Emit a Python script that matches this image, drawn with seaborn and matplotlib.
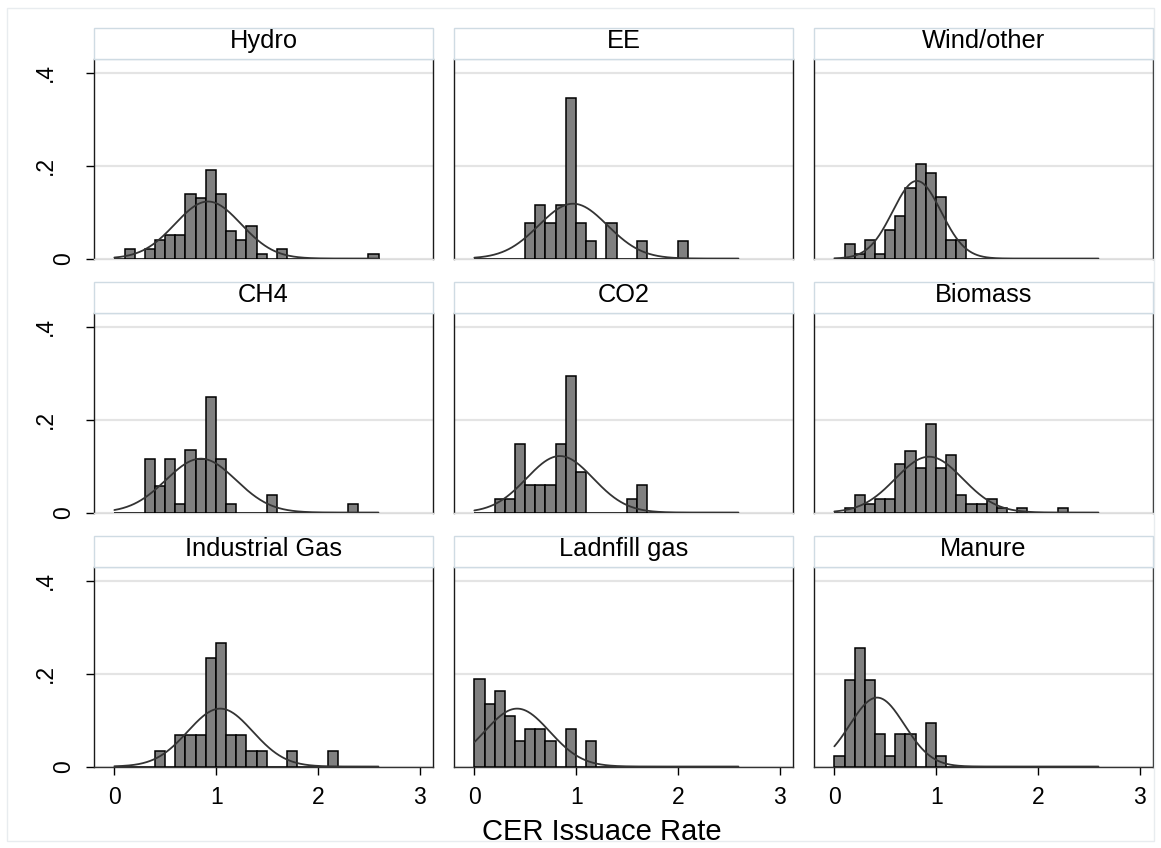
import numpy as np
import pandas as pd
import matplotlib
matplotlib.use("Agg")
import matplotlib.pyplot as plt
from matplotlib.patches import Rectangle
from matplotlib.transforms import ScaledTranslation
import seaborn as sns

# ---- data: share of projects per 0.1-wide bin of the CER issuance rate ----
panels = ["Hydro", "EE", "Wind/other",
          "CH4", "CO2", "Biomass",
          "Industrial Gas", "Ladnfill gas", "Manure"]

hydro_bins = [1, 3, 4, 5, 6, 7, 8, 9, 10, 11, 12, 13, 14, 16, 25]
hydro_frac = [.02, .02, .04, .05, .05, .14, .13, .19, .14, .06, .04, .07, .01, .02, .01]

ee_bins = [5, 6, 7, 8, 9, 10, 11, 13, 16, 20]
ee_frac = [.077, .115, .077, .115, .346, .077, .038, .077, .038, .038]

wind_bins = [1, 2, 3, 4, 5, 6, 7, 8, 9, 10, 11, 12]
wind_frac = [.031, .010, .041, .010, .061, .092, .153, .204, .184, .133, .041, .041]

ch4_bins = [3, 4, 5, 6, 7, 8, 9, 10, 11, 15, 23]
ch4_frac = [.115, .058, .115, .019, .135, .115, .250, .115, .019, .038, .019]

co2_bins = [2, 3, 4, 5, 6, 7, 8, 9, 10, 15, 16]
co2_frac = [.029, .029, .147, .059, .059, .059, .147, .294, .088, .029, .059]

biomass_bins = [1, 2, 3, 4, 5, 6, 7, 8, 9, 10, 11, 12, 13, 14, 15, 16, 18, 22]
biomass_frac = [.010, .038, .019, .029, .029, .105, .133, .095, .190, .095,
                .124, .038, .019, .019, .029, .010, .010, .010]

indgas_bins = [4, 6, 7, 8, 9, 10, 11, 12, 13, 14, 17, 21]
indgas_frac = [.033, .067, .067, .067, .233, .267, .067, .067, .033, .033, .033, .033]

landfill_bins = [0, 1, 2, 3, 4, 5, 6, 7, 9, 11]
landfill_frac = [.189, .135, .162, .108, .054, .081, .081, .054, .081, .054]

manure_bins = [0, 1, 2, 3, 4, 5, 6, 7, 9, 10]
manure_frac = [.023, .186, .256, .186, .070, .023, .070, .070, .093, .023]

# normal-density overlay parameters (mean, sd) per panel
norm_mean = [0.92, 0.97, 0.81, 0.85, 0.84, 0.93, 1.04, 0.42, 0.42]
norm_sd = [0.324, 0.337, 0.238, 0.343, 0.327, 0.331, 0.319, 0.319, 0.268]

all_bins = [hydro_bins, ee_bins, wind_bins, ch4_bins, co2_bins,
            biomass_bins, indgas_bins, landfill_bins, manure_bins]
all_frac = [hydro_frac, ee_frac, wind_frac, ch4_frac, co2_frac,
            biomass_frac, indgas_frac, landfill_frac, manure_frac]

x_ticks = [0, 1, 2, 3]
y_ticks = [0, 0.2, 0.4]
y_tick_labels = ["0", ".2", ".4"]
x_title = "CER Issuace Rate"

BIN_W = 0.0998
N_BINS = 26
CURVE_MAX = 2.594

# ---- style ----
sns.set_style("white")
plt.rcParams["font.family"] = ["Liberation Sans", "DejaVu Sans"]
plt.rcParams["text.color"] = "black"
plt.rcParams["xtick.color"] = "black"
plt.rcParams["ytick.color"] = "black"

W, H = 1161, 848
fig = plt.figure(figsize=(W / 100, H / 100), dpi=100)
fig.patch.set_facecolor("white")

# outer graph-region outline
fig.add_artist(Rectangle((7 / W, 1 - 841 / H), 1147 / W, 833 / H,
                         transform=fig.transFigure, fill=False,
                         edgecolor="#e8ecef", lw=1.0))

col_left = [94, 454, 814]
col_w = 339
row_top = [59, 313, 567]
row_h = 200
strip_h = 31

xs = np.linspace(0, CURVE_MAX, 400)
left_axes = []

for i, name in enumerate(panels):
    r, c = divmod(i, 3)
    left = col_left[c]
    top = row_top[r]
    ax = fig.add_axes([left / W, 1 - (top + row_h) / H, col_w / W, row_h / H])

    df = pd.DataFrame({
        "rate": (np.asarray(all_bins[i], dtype=float) + 0.5) * BIN_W,
        "share": np.asarray(all_frac[i], dtype=float),
    })
    sns.histplot(data=df, x="rate", weights="share", binwidth=BIN_W,
                 binrange=(0.0, N_BINS * BIN_W), stat="count",
                 color="#808080", edgecolor="black", linewidth=1.1,
                 alpha=1.0, ax=ax, zorder=3)

    mu, sd = norm_mean[i], norm_sd[i]
    ys = BIN_W * np.exp(-0.5 * ((xs - mu) / sd) ** 2) / (sd * np.sqrt(2 * np.pi))
    curve = pd.DataFrame({"x": xs, "y": ys})
    sns.lineplot(data=curve, x="x", y="y", color="#333333", linewidth=1.3, ax=ax,
                 estimator=None, sort=False, zorder=4)

    ax.set_xlim(-0.2, 3.13)
    ax.set_ylim(-0.001, 0.43)
    ax.set_xlabel("")
    ax.set_ylabel("")
    for yv in y_ticks:
        ax.axhline(yv, color="#e4e4e4", lw=1.6, zorder=1)

    ax.set_yticks(y_ticks)
    ax.set_xticks(x_ticks)
    if c == 0:
        ax.set_yticklabels(y_tick_labels, rotation=90, va="center", fontsize=16.5)
        ax.tick_params(axis="y", length=6, width=1, pad=21, color="black", left=True)
        left_axes.append(ax)
    else:
        ax.tick_params(axis="y", left=False, labelleft=False)
    if r == 2:
        ax.set_xticklabels([str(t) for t in x_ticks], fontsize=16.5)
        ax.tick_params(axis="x", length=5.8, width=1, pad=8, color="black", bottom=True)
    else:
        ax.tick_params(axis="x", bottom=False, labelbottom=False)

    for side in ("left", "right"):
        ax.spines[side].set_color("#1a1a1a")
        ax.spines[side].set_linewidth(1.0)
    ax.spines["top"].set_color("#cfdbe3")
    ax.spines["top"].set_linewidth(1.0)
    if r == 2:
        ax.spines["bottom"].set_color("#333333")
        ax.spines["bottom"].set_linewidth(1.0)
    else:
        ax.spines["bottom"].set_color("#dcdcdc")
        ax.spines["bottom"].set_linewidth(1.0)

    # panel title strip
    fig.add_artist(Rectangle((left / W, 1 - top / H), col_w / W, strip_h / H,
                             transform=fig.transFigure, facecolor="white",
                             edgecolor="#cfdbe3", lw=1.0))
    fig.text((left + col_w / 2) / W, 1 - (top - 11) / H, name,
             ha="center", va="baseline", fontsize=18.3, color="black")

fig.text(602 / W, 1 - 832 / H, x_title, ha="center", va="center",
         fontsize=21, color="black")

# the single-character zero label sits closer to the axis than ".2" / ".4"
for ax in left_axes:
    zero_lab = ax.get_yticklabels()[0]
    zero_lab.set_transform(zero_lab.get_transform()
                           + ScaledTranslation(0.19, 0, fig.dpi_scale_trans))

fig.savefig("out.png", dpi=100, facecolor="white")
